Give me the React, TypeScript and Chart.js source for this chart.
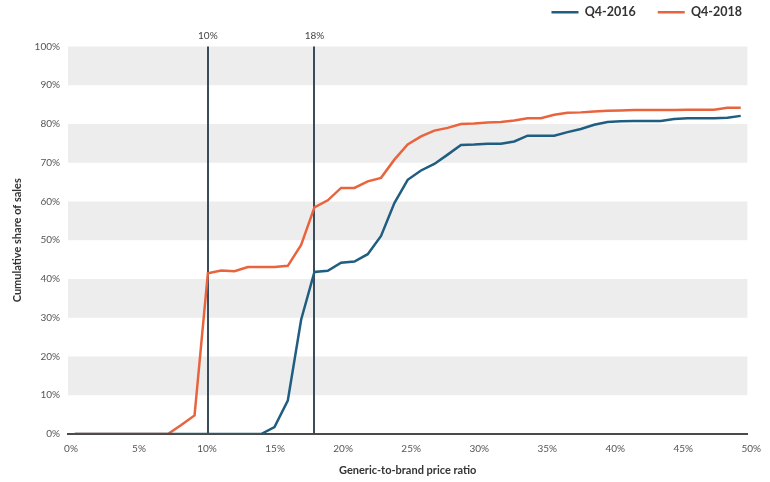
import React, { useEffect, useRef } from 'react';
import { Chart, registerables } from 'chart.js';

Chart.register(...registerables);

// Generic-to-brand price ratio (%), one point per 1%
const priceRatio = [
  0, 1, 2, 3, 4, 5, 6, 7, 8, 9, 10, 11, 12, 13, 14, 15, 16, 17, 18, 19, 20,
  21, 22, 23, 24, 25, 26, 27, 28, 29, 30, 31, 32, 33, 34, 35, 36, 37, 38, 39, 40,
  41, 42, 43, 44, 45, 46, 47, 48, 49, 50,
];

// Cumulative share of sales (%)
const q42016 = [
  0, 0, 0, 0, 0, 0, 0, 0, 0, 0, 0, 0, 0, 0, 0, 1.8, 8.6, 29.5, 41.8, 42.1, 44.2,
  44.5, 46.4, 51.1, 59.6, 65.6, 68.0, 69.7, 72.1, 74.6, 74.7, 74.9, 74.9, 75.5, 77.0, 77.0, 77.0, 77.9, 78.7, 79.8, 80.5,
  80.7, 80.8, 80.8, 80.8, 81.3, 81.5, 81.5, 81.5, 81.6, 82.1,
];

const q42018 = [
  0, 0, 0, 0, 0, 0, 0, 0, 2.3, 4.8, 41.5, 42.2, 42.0, 43.1, 43.1, 43.1, 43.4, 48.8, 58.5, 60.3, 63.5,
  63.5, 65.2, 66.1, 70.8, 74.7, 76.8, 78.3, 79.0, 80.0, 80.1, 80.4, 80.5, 80.9, 81.5, 81.5, 82.4, 82.9, 83.0, 83.2, 83.4,
  83.5, 83.6, 83.6, 83.6, 83.6, 83.7, 83.7, 83.7, 84.2, 84.2,
];

const seriesNames = ['Q4-2016', 'Q4-2018'];
const xTickValues = [0, 5, 10, 15, 20, 25, 30, 35, 40, 45, 50];
const markerValues = [10, 18];
const bandRanges = [
  [10, 20],
  [30, 40],
  [50, 60],
  [70, 80],
  [90, 100],
];

const BLUE = '#1f5e80';
const ORANGE = '#e9643d';
const MARKER = '#3a4c5a';
const FONT = 'Lato, "Open Sans", sans-serif';

const bandsPlugin = {
  id: 'bands',
  beforeDatasetsDraw(chart: any) {
    const { ctx, chartArea, scales } = chart;
    const y = scales.y;
    ctx.save();
    ctx.fillStyle = '#ededee';
    bandRanges.forEach(([lo, hi]) => {
      const top = y.getPixelForValue(hi);
      const bot = y.getPixelForValue(lo);
      ctx.fillRect(chartArea.left, top, chartArea.right - chartArea.left, bot - top);
    });
    // vertical markers
    const x = scales.x;
    ctx.strokeStyle = MARKER;
    ctx.lineWidth = 2;
    markerValues.forEach((v) => {
      const px = Math.round(x.getPixelForValue(v));
      ctx.beginPath();
      ctx.moveTo(px, chartArea.top);
      ctx.lineTo(px, chartArea.bottom);
      ctx.stroke();
    });
    ctx.restore();
  },
};

export default function App() {
  const canvasRef = useRef<HTMLCanvasElement | null>(null);

  useEffect(() => {
    if (!canvasRef.current) return;
    const chart = new Chart(canvasRef.current, {
      type: 'line',
      data: {
        datasets: [
          {
            label: seriesNames[0],
            data: priceRatio.map((x, i) => ({ x, y: q42016[i] })),
            borderColor: BLUE,
            backgroundColor: BLUE,
            borderWidth: 2.5,
            pointRadius: 0,
            tension: 0,
            xAxisID: 'x',
          },
          {
            label: seriesNames[1],
            data: priceRatio.map((x, i) => ({ x, y: q42018[i] })),
            borderColor: ORANGE,
            backgroundColor: ORANGE,
            borderWidth: 2.5,
            pointRadius: 0,
            tension: 0,
            xAxisID: 'x',
          },
        ],
      },
      options: {
        animation: false,
        responsive: true,
        maintainAspectRatio: false,
        layout: { padding: { left: 11, right: 6, top: -16, bottom: 0 } },
        plugins: {
          tooltip: { enabled: false },
          legend: {
            position: 'top',
            align: 'end',
            labels: {
              usePointStyle: true,
              pointStyle: 'line',
              pointStyleWidth: 27,
              boxHeight: 12,
              padding: 22,
              color: '#333',
              font: { family: FONT, size: 12.5, weight: 'bold' },
            },
          },
        },
        scales: {
          x: {
            type: 'linear',
            display: false,
            min: -0.5,
            max: 50.5,
          },
          xm: {
            type: 'linear',
            position: 'top',
            min: -0.5,
            max: 50.5,
            afterBuildTicks: (scale: any) => {
              scale.ticks = markerValues.map((v) => ({ value: v }));
            },
            afterFit: (scale: any) => {
              scale.height = 18;
            },
            grid: { display: false, drawTicks: false },
            border: { display: false },
            ticks: {
              padding: 5,
              color: '#444',
              font: { family: FONT, size: 10 },
              maxRotation: 0,
              autoSkip: false,
              callback: (v: any) => `${v}%`,
            },
          },
          xl: {
            type: 'linear',
            position: 'bottom',
            min: -0.22,
            max: 49.71,
            afterBuildTicks: (scale: any) => {
              scale.ticks = xTickValues.map((v) => ({ value: v }));
            },
            afterFit: (scale: any) => {
              scale.height = 48;
            },
            grid: { display: false, drawTicks: false },
            border: { display: true, color: '#4a4a4a', width: 2 },
            ticks: {
              padding: 9,
              color: '#555',
              font: { family: FONT, size: 10 },
              maxRotation: 0,
              autoSkip: false,
              callback: (v: any) => `${v}%`,
            },
            title: {
              display: true,
              text: 'Generic-to-brand price ratio',
              color: '#333',
              font: { family: FONT, size: 11, weight: 'bold' },
              padding: { top: 0, bottom: 5 },
            },
          },
          y: {
            min: 0,
            max: 100,
            afterFit: (scale: any) => {
              scale.width = 57;
            },
            grid: { display: false, drawTicks: false },
            border: { display: false },
            ticks: {
              stepSize: 10,
              padding: 8,
              color: '#555',
              font: { family: FONT, size: 10 },
              callback: (v: any) => `${v}%`,
            },
            title: {
              display: true,
              text: 'Cumulative share of sales',
              color: '#333',
              font: { family: FONT, size: 11, weight: 'bold' },
              padding: { top: 0, bottom: 0 },
            },
          },
          yr: {
            type: 'linear',
            position: 'right',
            afterFit: (scale: any) => {
              scale.width = 16;
            },
            grid: { display: false, drawTicks: false },
            border: { display: false },
            ticks: { display: false },
          },
        },
      },
      plugins: [bandsPlugin],
    });
    return () => chart.destroy();
  }, []);

  return (
    <div style={{ position: 'absolute', left: 0, top: 0, width: 770, height: 482 }}>
      <canvas ref={canvasRef} />
    </div>
  );
}
